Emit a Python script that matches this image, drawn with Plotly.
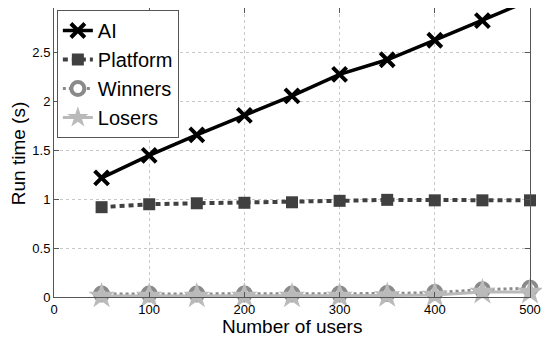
import plotly.graph_objects as go

users = [50, 100, 150, 200, 250, 300, 350, 400, 450, 500]
ai = [1.22, 1.45, 1.66, 1.86, 2.06, 2.28, 2.43, 2.63, 2.83, 3.04]
platform = [0.92, 0.95, 0.96, 0.965, 0.97, 0.985, 0.995, 0.99, 0.99, 0.99]
winners = [0.03, 0.03, 0.03, 0.03, 0.03, 0.03, 0.035, 0.045, 0.075, 0.09]
losers = [0.01, 0.01, 0.01, 0.01, 0.01, 0.01, 0.015, 0.02, 0.05, 0.05]
x_ticks = [0, 100, 200, 300, 400, 500]
y_ticks = [0, 0.5, 1, 1.5, 2, 2.5]
y_labels = ["0", "0.5", "1", "1.5", "2", "2.5"]

fig = go.Figure()
fig.add_trace(go.Scatter(x=users, y=ai, name="AI", mode="lines+markers",
                         line=dict(color="black", width=3.5),
                         marker=dict(symbol="x-thin", size=14,
                                     line=dict(color="black", width=4))))
fig.add_trace(go.Scatter(x=users, y=platform, name="Platform", mode="lines+markers",
                         line=dict(color="#404040", width=4, dash="5px,4px"),
                         marker=dict(symbol="square", size=12, color="#404040"),
                         cliponaxis=False))
fig.add_trace(go.Scatter(x=users, y=winners, name="Winners", mode="lines+markers",
                         line=dict(color="#8a8a8a", width=3, dash="dot"),
                         marker=dict(symbol="circle", size=13, color="white",
                                     line=dict(color="#8a8a8a", width=4)),
                         cliponaxis=False))
fig.add_trace(go.Scatter(x=users, y=losers, name="Losers", mode="lines+markers",
                         line=dict(color="#bababa", width=3),
                         marker=dict(symbol="star", size=20, color="#bababa"),
                         cliponaxis=False))

axis_common = dict(showline=True, linecolor="#555555", linewidth=1, mirror="ticks",
                   ticks="inside", ticklen=5, tickcolor="#555555",
                   showgrid=True, gridcolor="#c8c8c8", griddash="dot", gridwidth=1,
                   zeroline=False, tickfont=dict(size=13, color="black"),
                   automargin=False)

# the page adds an 8px body margin, so the figure is sized to fit after it
fig.update_layout(
    width=542, height=331,
    margin=dict(l=46, r=20, t=0, b=42),
    paper_bgcolor="white", plot_bgcolor="white",
    font=dict(family="Liberation Sans, Arial, sans-serif", color="black"),
    xaxis=dict(range=[0, 500], tickvals=x_ticks, **axis_common),
    yaxis=dict(range=[0, 2.96], tickvals=y_ticks, ticktext=y_labels, **axis_common),
    legend=dict(x=0.006, y=0.993, xanchor="left", yanchor="top",
                bgcolor="white", bordercolor="#555555", borderwidth=1,
                font=dict(size=20), itemwidth=30, tracegroupgap=0),
    showlegend=True,
    annotations=[
        dict(text="Number of users", xref="paper", yref="paper", x=0.5, y=0,
             xanchor="center", yanchor="top", yshift=-17, showarrow=False,
             font=dict(size=19)),
        dict(text="Run time (s)", xref="paper", yref="paper", x=-0.073, y=0.495,
             xanchor="center", yanchor="middle", textangle=-90, showarrow=False,
             font=dict(size=19)),
    ],
)

fig.write_html("out.html")
